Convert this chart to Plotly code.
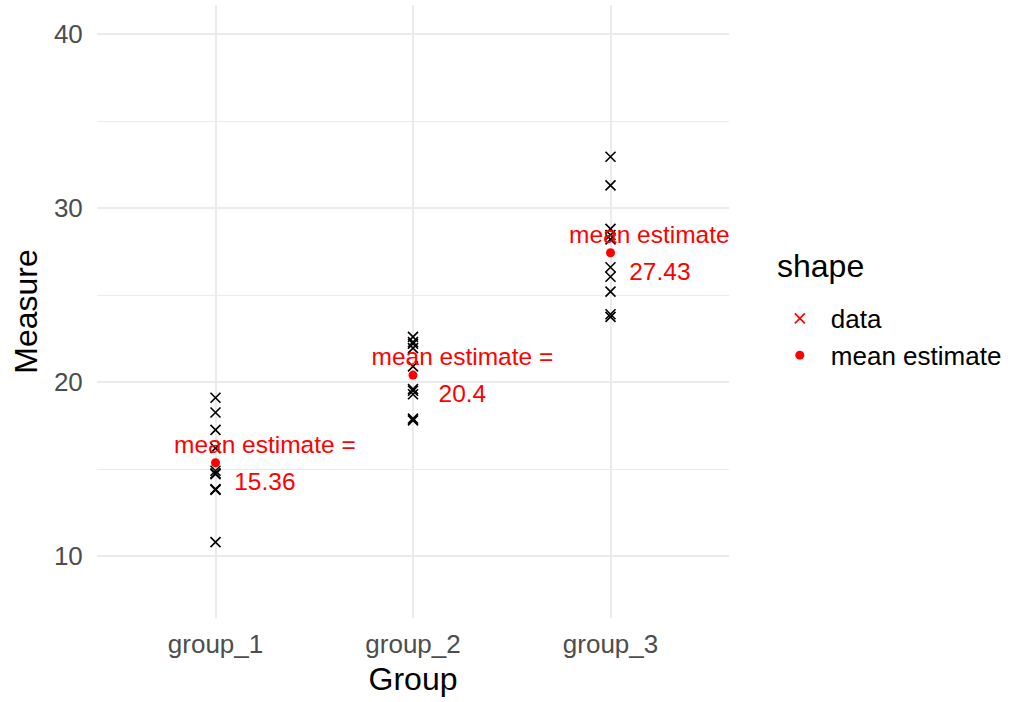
import plotly.graph_objects as go

categories = ["group_1", "group_2", "group_3"]
group_1_values = [19.1, 18.25, 17.25, 16.2, 14.9, 14.75, 14.7, 13.85, 13.8, 10.8]
group_2_values = [22.6, 22.3, 22.2, 21.95, 20.9, 19.6, 19.5, 19.3, 17.9, 17.8]
group_3_values = [32.95, 31.3, 28.8, 28.45, 28.2, 26.6, 26.05, 25.2, 23.9, 23.75]
mean_values = [15.36, 20.4, 27.43]
mean_labels = ["15.36", "20.4", "27.43"]
y_ticks = [10, 20, 30, 40]

FONT = "Liberation Sans, Arial, sans-serif"
RED = "#FF0000"
GRID = "#EBEBEB"

groups = [group_1_values, group_2_values, group_3_values]
xpos = [i + 1 for i in range(len(categories))]

fig = go.Figure()

# data points
dx, dy = [], []
for xi, vals in zip(xpos, groups):
    dx += [xi] * len(vals)
    dy += vals
fig.add_trace(go.Scatter(
    x=dx, y=dy, mode="markers", showlegend=False,
    marker=dict(symbol="x-thin", size=10, color="black",
                line=dict(color="black", width=1.6)),
    hoverinfo="y",
))

# mean points
fig.add_trace(go.Scatter(
    x=xpos, y=mean_values, mode="markers", showlegend=False,
    marker=dict(symbol="circle", size=9, color=RED),
))

# labels
lab_x = [x + 0.25 for x in xpos]
fig.add_trace(go.Scatter(
    x=lab_x, y=[m + 0.91 for m in mean_values], mode="text",
    text=["mean estimate ="] * len(mean_values), textposition="middle center",
    textfont=dict(family=FONT, size=24.5, color=RED), showlegend=False,
    cliponaxis=True, hoverinfo="skip",
))
fig.add_trace(go.Scatter(
    x=lab_x, y=[m - 1.2 for m in mean_values], mode="text",
    text=mean_labels, textposition="middle center",
    textfont=dict(family=FONT, size=24.5, color=RED), showlegend=False,
    cliponaxis=True, hoverinfo="skip",
))

# legend entries
fig.add_trace(go.Scatter(
    x=[None], y=[None], mode="markers", name="data",
    marker=dict(symbol="x-thin", size=10, color=RED, line=dict(color=RED, width=1.6)),
))
fig.add_trace(go.Scatter(
    x=[None], y=[None], mode="markers", name="mean estimate",
    marker=dict(symbol="circle", size=9, color=RED),
))

fig.update_layout(
    width=1012, height=702,
    paper_bgcolor="white", plot_bgcolor="white",
    margin=dict(l=97, r=283, t=5, b=84),
    font=dict(family=FONT, color="black"),
    legend=dict(
        font=dict(size=26, color="black"),
        x=1.063, xanchor="left", y=0.527, yanchor="top",
        bgcolor="rgba(0,0,0,0)", tracegroupgap=0, itemwidth=52,
    ),
    annotations=[dict(
        text="shape", x=1.073, y=0.574, xref="paper", yref="paper",
        xanchor="left", yanchor="middle", showarrow=False,
        font=dict(size=32, color="black"),
    )],
)
fig.update_xaxes(
    range=[0.4, 3.6], tickmode="array", tickvals=xpos, ticktext=categories,
    showgrid=True, gridcolor=GRID, gridwidth=2, zeroline=False, showline=False,
    ticks="outside", ticklen=3, tickcolor="rgba(0,0,0,0)",
    tickfont=dict(size=26, color="#4D4D4D"),
    title=dict(text="Group", font=dict(size=32, color="black"), standoff=9),
)
fig.update_yaxes(
    range=[6.44, 41.67], tickmode="array", tickvals=y_ticks,
    showgrid=True, gridcolor=GRID, gridwidth=2, zeroline=False, showline=False,
    ticks="outside", ticklen=8, tickcolor="rgba(0,0,0,0)",
    tickfont=dict(size=26, color="#4D4D4D"),
    minor=dict(tickvals=[15, 25, 35], showgrid=True, gridcolor=GRID, gridwidth=1, ticks=""),
    title=dict(text="Measure", font=dict(size=32, color="black"), standoff=6),
)

fig.write_html("out.html", config={"displayModeBar": False},
               post_script="document.body.style.margin='0';")
